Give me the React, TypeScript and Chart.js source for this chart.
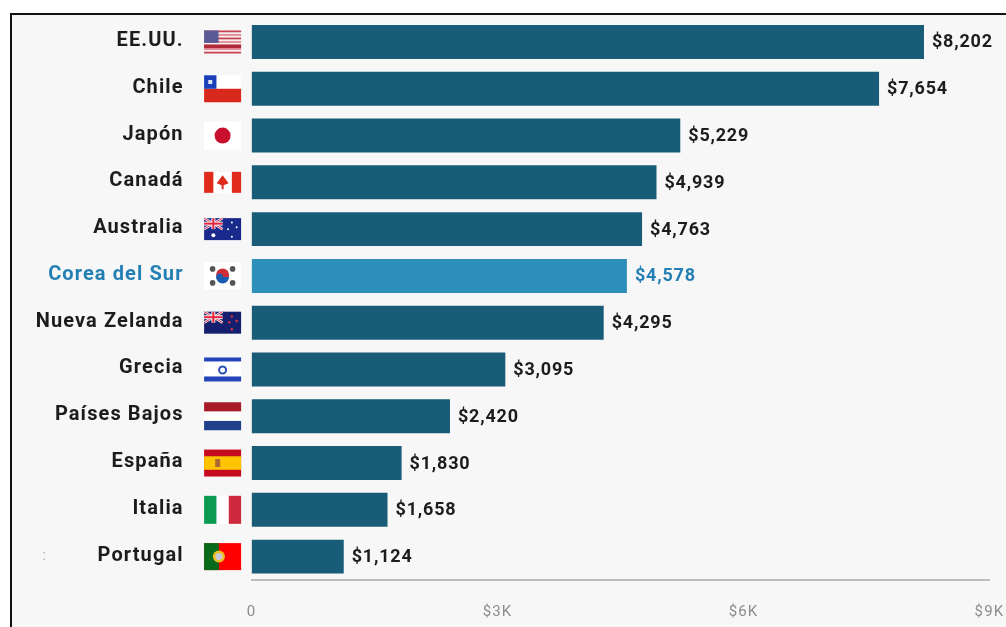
import React, { useEffect, useRef } from "react";
import { Chart, registerables } from "chart.js";

Chart.register(...registerables);

const countries = ["EE.UU.", "Chile", "Japón", "Canadá", "Australia", "Corea del Sur", "Nueva Zelanda", "Grecia", "Países Bajos", "España", "Italia", "Portugal"];
const values = [8202, 7654, 5229, 4939, 4763, 4578, 4295, 3095, 2420, 1830, 1658, 1124];
const xTicks = [0, 3000, 6000, 9000];
const highlighted = "Corea del Sur";

const BAR = "#195c78";
const BAR_HI = "#2e8fba";
const TEXT_HI = "#2480b4";
const TEXT = "#1c1c1c";

type Ctx = CanvasRenderingContext2D;
type F = (c: Ctx, x: number, y: number, w: number, h: number) => void;
const rect = (c: Ctx, col: string, x: number, y: number, w: number, h: number) => { c.fillStyle = col; c.fillRect(x, y, w, h); };
const disc = (c: Ctx, col: string, x: number, y: number, r: number) => { c.fillStyle = col; c.beginPath(); c.arc(x, y, r, 0, Math.PI * 2); c.fill(); };

const unionJack: F = (c, x, y, w, h) => {
  const W = w * 0.5, H = h * 0.5;
  c.strokeStyle = "#e8e8f0"; c.lineWidth = 2.5;
  c.beginPath(); c.moveTo(x, y); c.lineTo(x + W, y + H); c.moveTo(x + W, y); c.lineTo(x, y + H); c.stroke();
  c.strokeStyle = "#e0304a"; c.lineWidth = 1;
  c.beginPath(); c.moveTo(x, y); c.lineTo(x + W, y + H); c.moveTo(x + W, y); c.lineTo(x, y + H); c.stroke();
  rect(c, "#f0f0f5", x + W / 2 - 2, y, 4, H); rect(c, "#f0f0f5", x, y + H / 2 - 2, W, 4);
  rect(c, "#e8253c", x + W / 2 - 1, y, 2, H); rect(c, "#e8253c", x, y + H / 2 - 1, W, 2);
};

const flags: Record<string, { h: number; draw: F }> = {
  "EE.UU.": { h: 23, draw: (c, x, y, w, h) => {
    rect(c, "#f6f0f2", x, y, w, h);
    for (let i = 0; i < 7; i++) rect(c, i % 2 ? "#e08a96" : "#c8424f", x, y + (i * 2 * h) / 13, w, h / 13);
    rect(c, "#b02a3c", x, y + (8 * h) / 13, w, (2 * h) / 13);
    rect(c, "#5a5a96", x, y, w * 0.39, (7 * h) / 13);
  } },
  Chile: { h: 27, draw: (c, x, y, w, h) => {
    rect(c, "#ffffff", x, y, w, h / 2); rect(c, "#d9281c", x, y + h / 2, w, h / 2);
    rect(c, "#1a3fb8", x, y, w / 3, h / 2); rect(c, "#dfe4f5", x + w / 6 - 2, y + h / 4 - 2, 4, 4);
  } },
  "Japón": { h: 28, draw: (c, x, y, w, h) => {
    rect(c, "#ffffff", x, y, w, h); disc(c, "#c8102e", x + w / 2, y + h / 2, 8);
  } },
  "Canadá": { h: 21, draw: (c, x, y, w, h) => {
    rect(c, "#ffffff", x, y, w, h); rect(c, "#e02a1c", x, y, w / 4, h); rect(c, "#e02a1c", x + (3 * w) / 4, y, w / 4, h);
    c.fillStyle = "#e02a1c"; c.beginPath();
    const cx = x + w / 2, cy = y + h / 2;
    c.moveTo(cx, cy - 7); c.lineTo(cx + 6, cy + 1); c.lineTo(cx + 1, cy + 3); c.lineTo(cx + 1, cy + 7); c.lineTo(cx - 1, cy + 7); c.lineTo(cx - 1, cy + 3); c.lineTo(cx - 6, cy + 1);
    c.closePath(); c.fill();
  } },
  Australia: { h: 22, draw: (c, x, y, w, h) => {
    rect(c, "#1a2a8c", x, y, w, h); unionJack(c, x, y, w, h);
    disc(c, "#ffffff", x + w * 0.25, y + h * 0.78, 2);
    [[0.75, 0.2], [0.88, 0.42], [0.65, 0.5], [0.75, 0.85]].forEach(([a, b]) => disc(c, "#ffffff", x + w * a, y + h * b, 1));
  } },
  "Corea del Sur": { h: 27, draw: (c, x, y, w, h) => {
    rect(c, "#ffffff", x, y, w, h);
    const cx = x + w / 2, cy = y + h / 2;
    disc(c, "#cd2e3a", cx, cy - 1, 6.5);
    c.fillStyle = "#1a5cb0"; c.beginPath(); c.arc(cx, cy + 1, 6.5, 0, Math.PI); c.fill(); disc(c, "#1a5cb0", cx - 3, cy + 1, 3.3);
    [[-10, -7], [10, -7], [-10, 7], [10, 7]].forEach(([a, b]) => disc(c, "#555555", cx + a, cy + b, 2.8));
  } },
  "Nueva Zelanda": { h: 22, draw: (c, x, y, w, h) => {
    rect(c, "#14206e", x, y, w, h); unionJack(c, x, y, w, h);
    [[0.75, 0.22], [0.88, 0.42], [0.68, 0.48], [0.75, 0.8]].forEach(([a, b]) => disc(c, "#e0303c", x + w * a, y + h * b, 1.2));
  } },
  Grecia: { h: 24, draw: (c, x, y, w, h) => {
    rect(c, "#ffffff", x, y, w, h); rect(c, "#2244b8", x, y, w, 4); rect(c, "#2244b8", x, y + h - 5, w, 5);
    c.strokeStyle = "#2a50b8"; c.lineWidth = 2; c.beginPath(); c.arc(x + w / 2, y + h / 2 + 0.5, 3.5, 0, Math.PI * 2); c.stroke();
  } },
  "Países Bajos": { h: 28, draw: (c, x, y, w, h) => {
    rect(c, "#a81c2a", x, y, w, h / 3); rect(c, "#ffffff", x, y + h / 3, w, h / 3); rect(c, "#20408c", x, y + (2 * h) / 3, w, h / 3);
  } },
  "España": { h: 27, draw: (c, x, y, w, h) => {
    rect(c, "#c60b1e", x, y, w, h); rect(c, "#ffc400", x, y + h / 4, w, h / 2);
    rect(c, "#ad6a30", x + w * 0.3, y + h / 2 - 4, 5, 8);
  } },
  Italia: { h: 28, draw: (c, x, y, w, h) => {
    rect(c, "#ffffff", x, y, w, h); rect(c, "#0b9a50", x, y, w / 3, h); rect(c, "#cd2a3e", x + (2 * w) / 3, y, w / 3, h);
  } },
  Portugal: { h: 27, draw: (c, x, y, w, h) => {
    rect(c, "#ff0000", x, y, w, h); rect(c, "#0a6a1c", x, y, w * 0.4, h);
    disc(c, "#f0c020", x + w * 0.4, y + h / 2, 6); disc(c, "#c8c8d8", x + w * 0.4, y + h / 2, 3.5);
  } },
};

const noPad = (s: any) => { s.paddingTop = 0; s.paddingBottom = 0; s.paddingLeft = 0; s.paddingRight = 0; };

const extras = {
  id: "extras",
  beforeDraw(chart: any) { chart.ctx.letterSpacing = "1.1px"; },
  afterDraw(chart: any) {
    const { ctx, chartArea, scales } = chart;
    const y = scales.y;
    ctx.save();
    ctx.letterSpacing = "0.8px";
    countries.forEach((name, i) => {
      const f = flags[name];
      const cy = y.getPixelForTick(i);
      const w = 37, left = chartArea.left - 47.5;
      f.draw(ctx, left, cy - f.h / 2, w, f.h);
    });
    const meta = chart.getDatasetMeta(0);
    ctx.font = "700 18px Roboto";
    ctx.textBaseline = "middle";
    ctx.textAlign = "left";
    meta.data.forEach((bar: any, i: number) => {
      ctx.fillStyle = countries[i] === highlighted ? TEXT_HI : TEXT;
      ctx.fillText("$" + values[i].toLocaleString("en-US"), bar.x + 8, bar.y + 1);
    });
    ctx.fillStyle = "#a8a8a8";
    ctx.font = "400 14px Roboto";
    ctx.textAlign = "center";
    ctx.fillText(":", chartArea.left - 207, y.getPixelForTick(countries.length - 1));
    ctx.restore();
  },
};

export default function App() {
  const ref = useRef<HTMLCanvasElement>(null);
  useEffect(() => {
    const chart = new Chart(ref.current!, {
      type: "bar",
      data: {
        labels: countries,
        datasets: [{
          data: values,
          backgroundColor: countries.map((c) => (c === highlighted ? BAR_HI : BAR)),
          barPercentage: 0.726,
          categoryPercentage: 1,
        }],
      },
      options: {
        indexAxis: "y",
        responsive: false,
        animation: false,
        layout: { padding: { top: 18.6, right: 16.6, bottom: 0, left: 0 } },
        plugins: { legend: { display: false }, tooltip: { enabled: false } },
        scales: {
          x: {
            min: 0,
            max: 9000,
            afterBuildTicks: (s: any) => { s.ticks = xTicks.map((value) => ({ value })); },
            afterFit: (s: any) => { s.height = 47; noPad(s); },
            border: { display: true, color: "#bdbdbd", width: 2 },
            grid: { display: false, drawTicks: false },
            ticks: {
              padding: 23,
              maxRotation: 0,
              autoSkip: false,
              color: "#8c8c8c",
              font: { family: "Roboto", size: 15, weight: 400 },
              callback: (v: any) => (v === 0 ? "0" : "$" + v / 1000 + "K"),
            },
          },
          y: {
            afterFit: (s: any) => { s.width = 251.6; noPad(s); },
            border: { display: false },
            grid: { display: false, drawTicks: false },
            ticks: {
              padding: 68,
              labelOffset: -1,
              autoSkip: false,
              color: (c: any) => (countries[c.index] === highlighted ? TEXT_HI : TEXT),
              font: { family: "Roboto", size: 20, weight: 700 },
            },
          },
        },
      },
      plugins: [extras],
    } as any);
    return () => chart.destroy();
  }, []);
  return (
    <div style={{ position: "fixed", left: 0, top: 0, width: 1006, height: 627, background: "#fff", overflow: "hidden" }}>
      <div style={{ position: "absolute", left: 10, top: 13, right: 0, bottom: 0, background: "#f7f7f7", borderLeft: "2.5px solid #111", borderTop: "2px solid #111" }} />
      <canvas ref={ref} width={1006} height={627} style={{ position: "absolute", left: 0, top: 0, width: 1006, height: 627, filter: "blur(0.6px)" }} />
    </div>
  );
}
